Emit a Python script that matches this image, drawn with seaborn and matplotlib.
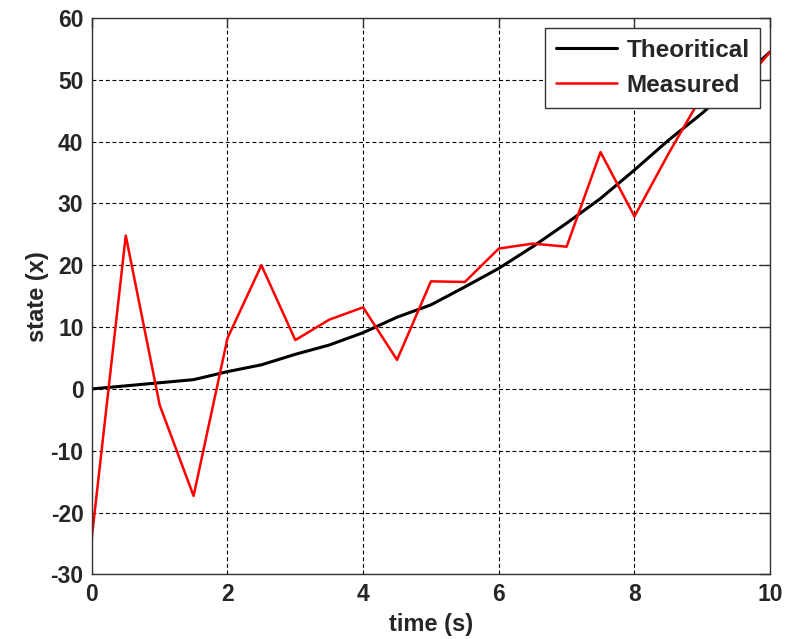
import matplotlib
matplotlib.use('Agg')
import matplotlib.pyplot as plt
import pandas as pd
import seaborn as sns

# data
time_s = [0.0, 0.5, 1.0, 1.5, 2.0, 2.5, 3.0, 3.5, 4.0, 4.5, 5.0,
          5.5, 6.0, 6.5, 7.0, 7.5, 8.0, 8.5, 9.0, 9.5, 10.0]
theoretical = [0.0, 0.5, 1.0, 1.5, 2.8, 3.9, 5.6, 7.1, 9.1, 11.6, 13.6,
               16.5, 19.5, 23.0, 26.8, 30.8, 35.4, 40.2, 44.6, 49.5, 54.5]
measured = [-24.0, 24.8, -2.6, -17.3, 8.2, 20.0, 7.9, 11.2, 13.2, 4.7, 17.4,
            17.3, 22.7, 23.5, 23.0, 38.3, 27.9, 38.0, 47.5, 48.0, 54.5]
x_ticks = [0, 2, 4, 6, 8, 10]
y_ticks = [-30, -20, -10, 0, 10, 20, 30, 40, 50, 60]

df = pd.DataFrame({'time': time_s, 'Theoritical': theoretical, 'Measured': measured})

sns.set_style('white')
plt.rcParams['font.family'] = ['Liberation Sans', 'DejaVu Sans']
plt.rcParams['font.weight'] = 'bold'
plt.rcParams['axes.unicode_minus'] = False

fig = plt.figure(figsize=(7.85, 6.39), dpi=100)
ax = fig.add_axes([0.117, 0.101, 0.864, 0.871])

sns.lineplot(data=df, x='time', y='Theoritical', color='black', linewidth=2.2,
             label='Theoritical', ax=ax)
sns.lineplot(data=df, x='time', y='Measured', color='#ff0000', linewidth=1.8,
             label='Measured', ax=ax)

ax.set_xlim(0, 10)
ax.set_ylim(-30, 60)
ax.set_xticks(x_ticks)
ax.set_yticks(y_ticks)
ax.grid(True, color='black', linestyle=(0, (3.5, 2.5)), linewidth=0.8)
ax.set_axisbelow(True)

for s in ax.spines.values():
    s.set_color('0.2')
    s.set_linewidth(1.0)
    s.set_visible(True)

ax.tick_params(direction='in', length=7, width=1, top=True, right=True,
               labelsize=16.5, pad=6, color='0.2')
for lab in ax.get_xticklabels() + ax.get_yticklabels():
    lab.set_fontweight('bold')

ax.set_xlabel('time (s)', fontsize=17, fontweight='bold', labelpad=5)
ax.set_ylabel('state (x)', fontsize=17, fontweight='bold', labelpad=1)

leg = ax.legend(loc='upper right', fontsize=17.5, frameon=True, fancybox=False,
                handlelength=2.5, handletextpad=0.4, labelspacing=0.5,
                borderpad=0.45, borderaxespad=0.4)
leg.get_frame().set_edgecolor('0.2')
leg.get_frame().set_linewidth(1.0)
leg.get_frame().set_alpha(1)
for txt in leg.get_texts():
    txt.set_fontweight('bold')

fig.savefig('out.png', dpi=100)
